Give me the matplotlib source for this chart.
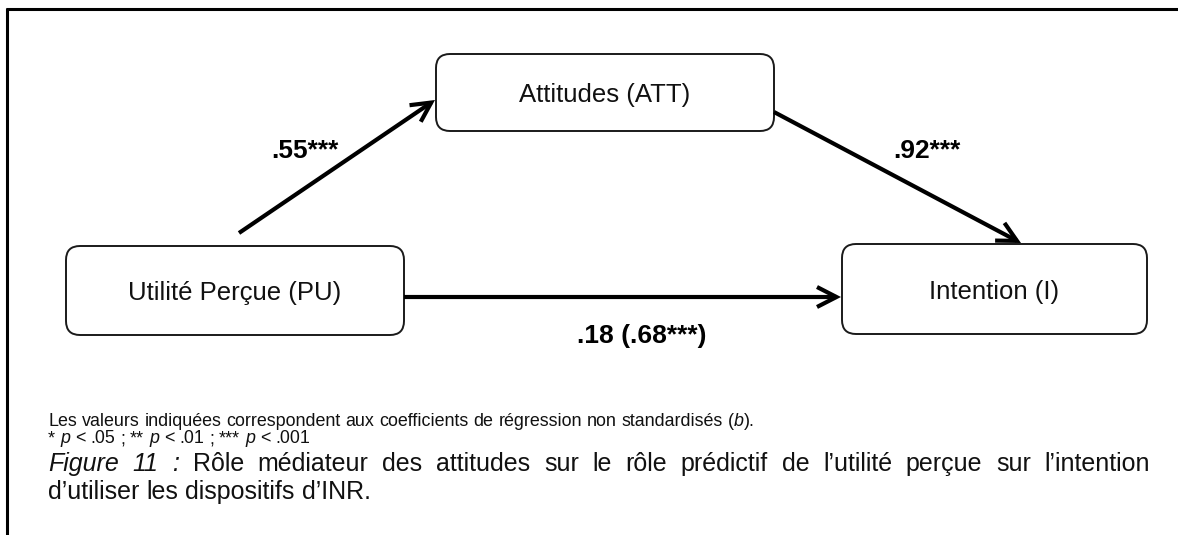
import matplotlib
matplotlib.use("Agg")
import matplotlib.pyplot as plt
from matplotlib.patches import FancyBboxPatch, FancyArrowPatch, ArrowStyle

# ---------------- data ----------------
node_labels = ["Utilité Perçue (PU)", "Attitudes (ATT)", "Intention (I)"]
coef_a = 0.55          # PU -> ATT
coef_b = 0.92          # ATT -> I
coef_c_direct = 0.18   # PU -> I (direct)
coef_c_total = 0.68    # PU -> I (total)
sig_a, sig_b, sig_c_direct, sig_c_total = "***", "***", "", "***"
note_line1 = [("Les valeurs indiquées correspondent aux coefficients de régression non standardisés (", False),
              ("b", True), (").", False)]
note_line2 = [("* ", False), ("p", True), (" < .05 ; ** ", False), ("p", True),
              (" < .01 ; *** ", False), ("p", True), (" < .001", False)]
caption_line1 = [("Figure 11 :", True),
                 (" Rôle médiateur des attitudes sur le rôle prédictif de l’utilité perçue sur l’intention", False)]
caption_line2 = [("d’utiliser les dispositifs d’INR.", False)]


def fmt(v):
    s = f"{v:.2f}"
    return s[1:] if s.startswith("0") else s


label_a = fmt(coef_a) + sig_a
label_b = fmt(coef_b) + sig_b
label_c = f"{fmt(coef_c_direct)}{sig_c_direct} ({fmt(coef_c_total)}{sig_c_total})"

# ---------------- figure ----------------
W, H = 1178, 535
fig = plt.figure(figsize=(W / 100, H / 100), dpi=100)
ax = fig.add_axes([0, 0, 1, 1])
ax.set_xlim(0, W)
ax.set_ylim(H, 0)
ax.axis("off")
FONT = "Liberation Sans"
r = fig.canvas.get_renderer()

# frame (top and left rules)
ax.plot([6, W], [9, 9], color="black", lw=2.2, solid_capstyle="butt")
ax.plot([7, 7], [8, H], color="black", lw=2.2, solid_capstyle="butt")

# boxes: (x0, y0, x1, y1)
boxes = {
    "PU": (66, 246, 404, 335),
    "ATT": (436, 54, 774, 131),
    "I": (842, 244, 1147, 334),
}
keys = ["PU", "ATT", "I"]
for k, lab in zip(keys, node_labels):
    x0, y0, x1, y1 = boxes[k]
    p = FancyBboxPatch((x0, y0), x1 - x0, y1 - y0,
                       boxstyle="round,pad=0,rounding_size=14",
                       fc="white", ec="#1a1a1a", lw=1.4)
    ax.add_patch(p)
    ax.text((x0 + x1) / 2, (y0 + y1) / 2 + 9.5, lab, ha="center", va="baseline",
            fontsize=18.5, family=FONT, color="#111111")

# arrows
style = ArrowStyle("->", head_length=14, head_width=7.2)
arrows = [((239, 233), (435, 100)),
          ((774, 112), (1021, 243)),
          ((404, 297), (841, 297))]
for a, b in arrows:
    ax.add_patch(FancyArrowPatch(a, b, arrowstyle=style, mutation_scale=1,
                                 lw=3.0, color="black", shrinkA=0, shrinkB=0,
                                 capstyle="butt", joinstyle="miter"))

# coefficient labels
ax.text(271, 158, label_a, ha="left", va="baseline", fontsize=19, fontweight="bold", family=FONT)
ax.text(893, 158, label_b, ha="left", va="baseline", fontsize=19, fontweight="bold", family=FONT)
ax.text(577, 343, label_c, ha="left", va="baseline", fontsize=19, fontweight="bold", family=FONT)


# ---------------- text runs helper ----------------
def measure(s, size, italic):
    t = ax.text(0, 0, s, fontsize=size, family=FONT, style="italic" if italic else "normal")
    w = t.get_window_extent(r).width
    t.remove()
    return w


def advance(s, size, italic):
    # advance width of s (including side bearings)
    return measure("x" + s + "x", size, italic) - measure("xx", size, italic)


def draw_runs(x0, y, runs, size, target=None, color="#111111"):
    tokens = []
    for text, ital in runs:
        parts = text.split(" ")
        for i, part in enumerate(parts):
            if i > 0:
                tokens.append(None)
            if part:
                tokens.append((part, ital))
    sp = advance(" ", size, False)
    widths = [None if t is None else advance(t[0], size, t[1]) for t in tokens]
    nsp = sum(1 for t in tokens if t is None)
    natural = sum(w for w in widths if w is not None) + nsp * sp
    gap = sp
    if target is not None and nsp:
        gap = sp + (target - natural) / nsp
    x = x0
    for t, w in zip(tokens, widths):
        if t is None:
            x += gap
        else:
            ax.text(x, y, t[0], fontsize=size, family=FONT, ha="left", va="baseline",
                    style="italic" if t[1] else "normal", color=color)
            x += w


draw_runs(48, 426, note_line1, 12.9)
draw_runs(48, 443, note_line2, 12.9)
draw_runs(48, 471, caption_line1, 18, target=1150 - 48)
draw_runs(48, 499, caption_line2, 18)

fig.savefig("out.png", dpi=100)
